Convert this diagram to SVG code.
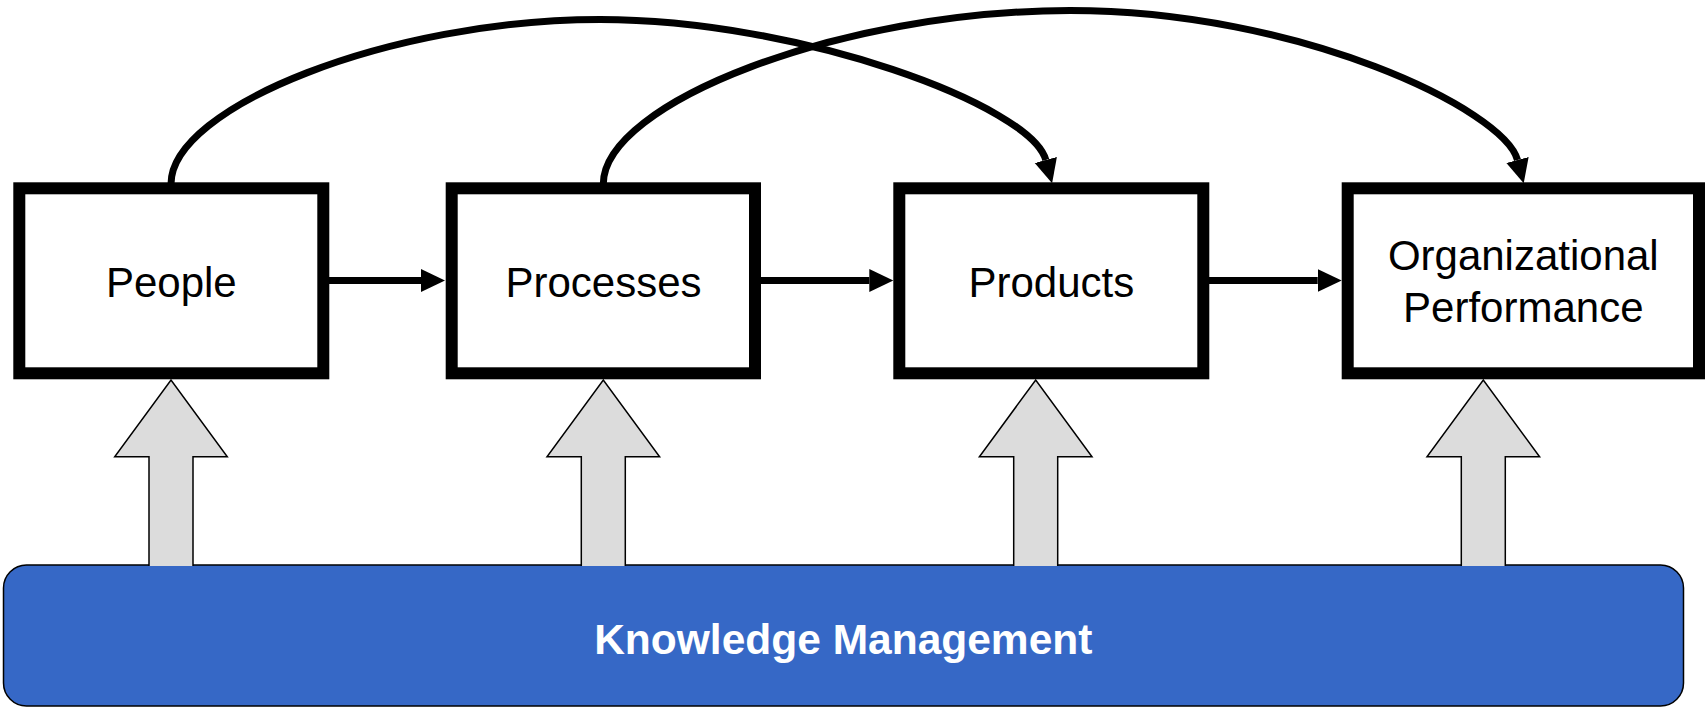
<svg xmlns="http://www.w3.org/2000/svg" width="1706" height="708" viewBox="0 0 1706 708">
  <style>
    .box { fill: #ffffff; stroke: #000000; stroke-width: 12; }
    .lbl { font-family: "Liberation Sans", Arial, sans-serif; font-size: 42px; fill: #000000; text-anchor: middle; }
    .conn { fill: none; stroke: #000000; stroke-width: 7; }
    .up { fill: #dcdcdc; stroke: #000000; stroke-width: 1.5; stroke-linejoin: miter; }
    .km { fill: #3668c6; stroke: #000000; stroke-width: 1.5; }
    .kmlbl { font-family: "Liberation Sans", Arial, sans-serif; font-size: 42.5px; font-weight: bold; fill: #ffffff; text-anchor: middle; }
  </style>
  <defs>
    <marker id="ah" markerUnits="userSpaceOnUse" markerWidth="26" markerHeight="26" viewBox="0 -13 26 26" refX="0" refY="0" orient="auto">
      <path d="M0,-11.5 L24,0 L0,11.5 Z" fill="#000000"/>
    </marker>
  </defs>

  <rect width="1706" height="708" fill="#ffffff"/>

  <g id="knowledge-management">
    <rect class="km" x="3.5" y="565" width="1680" height="141" rx="23" ry="23"/>
    <text class="kmlbl" x="843.3" y="654">Knowledge Management</text>
  </g>

  <g id="support-arrows">
    <path class="up" d="M149,566 L149,456.7 L114.7,456.7 L171,380 L227.3,456.7 L193,456.7 L193,566"/>
    <path class="up" d="M581.3,566 L581.3,456.7 L547,456.7 L603.3,380 L659.6,456.7 L625.3,456.7 L625.3,566"/>
    <path class="up" d="M1013.7,566 L1013.7,456.7 L979.4,456.7 L1035.7,380 L1092,456.7 L1057.7,456.7 L1057.7,566"/>
    <path class="up" d="M1461.3,566 L1461.3,456.7 L1427,456.7 L1483.3,380 L1539.6,456.7 L1505.3,456.7 L1505.3,566"/>
  </g>

  <g id="connectors">
    <line class="conn" x1="329" y1="280.5" x2="421" y2="280.5" marker-end="url(#ah)"/>
    <line class="conn" x1="761" y1="280.5" x2="869.3" y2="280.5" marker-end="url(#ah)"/>
    <line class="conn" x1="1209" y1="280.5" x2="1317.7" y2="280.5" marker-end="url(#ah)"/>
    <path class="conn" d="M171,184 C171,107 390,19.5 600,19.5 C800,19.5 1031,105.75 1045.8,160" marker-end="url(#ah)"/>
    <path class="conn" d="M603.3,184 C603.3,103 841,10.5 1070,10.5 C1300,10.5 1504.2,110.1 1517.5,160" marker-end="url(#ah)"/>
  </g>

  <g id="people">
    <rect class="box" x="19.3" y="188.3" width="304" height="185"/>
    <text class="lbl" x="171.3" y="296.7">People</text>
  </g>
  <g id="processes">
    <rect class="box" x="451.7" y="188.3" width="303.3" height="185"/>
    <text class="lbl" x="603.5" y="296.7">Processes</text>
  </g>
  <g id="products">
    <rect class="box" x="899.3" y="188.3" width="304" height="185"/>
    <text class="lbl" x="1051.3" y="296.7">Products</text>
  </g>
  <g id="organizational-performance">
    <rect class="box" x="1347.7" y="188.3" width="351.3" height="185"/>
    <text class="lbl" x="1523.3" y="270">Organizational</text>
    <text class="lbl" x="1523.3" y="321.7">Performance</text>
  </g>
</svg>
